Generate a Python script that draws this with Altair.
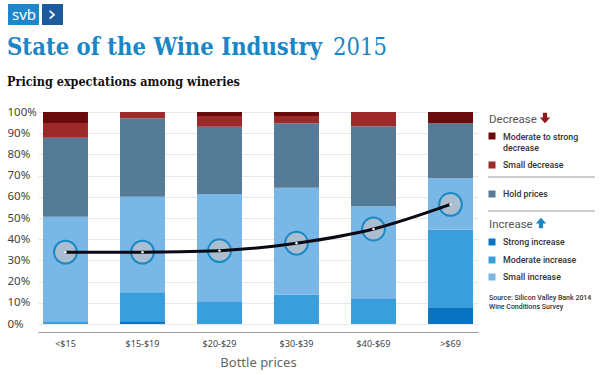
import altair as alt
import pandas as pd

# ---------------- data ----------------
categories = ["<$15", "$15-$19", "$20-$29", "$30-$39", "$40-$69", ">$69"]
series_names = ["Strong increase", "Moderate increase", "Small increase",
                "Hold prices", "Small decrease", "Moderate to strong decrease"]
strong_increase = [0, 1, 0, 0, 0, 7.5]
moderate_increase = [1, 14, 10.7, 13.8, 12.2, 36.9]
small_increase = [49.6, 45, 50.6, 50.5, 43.4, 24.3]
hold_prices = [37.2, 37, 31.8, 30.4, 37.7, 26]
small_decrease = [7, 3, 5, 3.4, 6.7, 0]
mod_strong_decrease = [5.2, 0, 1.9, 1.9, 0, 5.3]
trend = [33.9, 33.9, 34.6, 38.1, 44.8, 56.4]
y_ticks = [0, 10, 20, 30, 40, 50, 60, 70, 80, 90, 100]
colors = ["#0a73c1", "#3a9edc", "#78b7e6", "#557b97", "#9c2a2a", "#6a0a0a"]

series_values = [strong_increase, moderate_increase, small_increase,
                 hold_prices, small_decrease, mod_strong_decrease]
rows = []
for k, (name, vals) in enumerate(zip(series_names, series_values)):
    for c, v in zip(categories, vals):
        rows.append({"cat": c, "series": name, "value": v, "ord": k})
df = pd.DataFrame(rows)
trend_df = pd.DataFrame({"cat": categories, "trend": trend})
one = pd.DataFrame({"a": [0]})

FONT = "Noto Sans"
LFONT = "Roboto"
SERIF = "DejaVu Serif Condensed"

x_axis = alt.Axis(title="Bottle prices", labelAngle=0, offset=8,
                  ticks=False, domainColor="#999999", domainWidth=1,
                  labelFontSize=9, labelColor="#444444", labelFont=FONT,
                  labelPadding=7, titleFont=FONT, titleFontSize=13,
                  titleFontWeight="normal", titleColor="#666666",
                  titlePadding=8)
y_axis = alt.Axis(title=None, values=y_ticks, tickCount=11, labelExpr="datum.value + '%'",
                  ticks=False, tickSize=0, domain=False, labelAlign="left",
                  labelPadding=31, labelFontSize=11.5, labelColor="#444444",
                  labelFont=FONT, gridColor="#e8e8e8", gridWidth=1,
                  labelOverlap=False)
x_scale = alt.Scale(paddingInner=0.416, paddingOuter=0.065)
y_scale = alt.Scale(domain=[0, 100], nice=False)

bars = alt.Chart(df).mark_bar().encode(
    x=alt.X("cat:N", sort=categories, scale=x_scale, axis=x_axis),
    y=alt.Y("value:Q", stack="zero", scale=y_scale, axis=y_axis),
    color=alt.Color("series:N", scale=alt.Scale(domain=series_names, range=colors), legend=None),
    order=alt.Order("ord:Q", sort="ascending"),
)

tx = alt.X("cat:N", sort=categories, scale=x_scale, axis=x_axis)
ty = alt.Y("trend:Q", scale=y_scale, axis=y_axis)

circles = alt.Chart(trend_df).mark_circle(
    size=520, color="#abbdd0", opacity=1, stroke="#1a8ac6", strokeWidth=2
).encode(x=tx, y=ty)

line = alt.Chart(trend_df).mark_line(
    interpolate="monotone", color="#0a0a14", strokeWidth=3
).encode(x=tx, y=ty)

dots = alt.Chart(trend_df).mark_circle(size=6, color="white", opacity=1).encode(x=tx, y=ty)


def txt(s, x, y, size, color, weight="normal", font=FONT, align="left"):
    return alt.Chart(one).mark_text(
        text=s, fontSize=size, color=color, fontWeight=weight, font=font,
        align=align, baseline="alphabetic"
    ).encode(x=alt.value(x), y=alt.value(y))


def rect(x, x2, y, y2, color):
    return alt.Chart(one).mark_rect(color=color).encode(
        x=alt.value(x), x2=alt.value(x2), y=alt.value(y), y2=alt.value(y2))


def rule(x, x2, y, color="#bdbdbd", w=1.5):
    return alt.Chart(one).mark_rule(color=color, strokeWidth=w).encode(
        x=alt.value(x), x2=alt.value(x2), y=alt.value(y))


def arrow(x, y, color, down=True):
    if down:
        path = "M -1 -0.1 L -0.4 -0.1 L -0.4 -1 L 0.4 -1 L 0.4 -0.1 L 1 -0.1 L 0 1 Z"
    else:
        path = "M -1 0.1 L -0.4 0.1 L -0.4 1 L 0.4 1 L 0.4 0.1 L 1 0.1 L 0 -1 Z"
    return alt.Chart(one).mark_point(shape=path, filled=True, size=110, color=color,
                                     opacity=1).encode(x=alt.value(x), y=alt.value(y))


def square(y, color):
    return alt.Chart(one).mark_square(size=49, color=color, opacity=1).encode(
        x=alt.value(454), y=alt.value(y))


LS = 8.8
LC = "#333333"
deco = [
    # logo
    rect(-30, 1, -108, -87, "#1d87c9"),
    rect(4, 25, -108, -87, "#1c5a9c"),
    txt("svb", -26, -92, 15, "white", font=FONT),
    txt("\u203a", 14, -91, 22, "white", font="DejaVu Sans", align="center"),
    # titles
    txt("State of the Wine Industry", -31, -57, 23.6, "#1a86c6", weight="bold", font=SERIF),
    txt("2015", 295, -57, 23.6, "#1a86c6", weight="normal", font=SERIF),
    txt("Pricing expectations among wineries", -31, -26, 12.5, "#111111", weight="bold", font=SERIF),
    # legend
    txt("Decrease", 451, 11, 11.5, "#555555", font=LFONT),
    arrow(507, 6, "#8e1b1b", down=True),
    square(24, colors[5]),
    txt("Moderate to strong", 465, 28, LS, LC, weight=500, font=LFONT),
    txt("decrease", 465, 39, LS, LC, weight=500, font=LFONT),
    square(53, colors[4]),
    txt("Small decrease", 465, 56, LS, LC, weight=500, font=LFONT),
    rule(450, 557, 65),
    square(82, colors[3]),
    txt("Hold prices", 465, 85, LS, LC, weight=500, font=LFONT),
    rule(450, 557, 99),
    txt("Increase", 451, 116, 11.5, "#555555", font=LFONT),
    arrow(503, 111, "#1a86c6", down=False),
    square(130, colors[0]),
    txt("Strong increase", 465, 133, LS, LC, weight=500, font=LFONT),
    square(148, colors[1]),
    txt("Moderate increase", 465, 151, LS, LC, weight=500, font=LFONT),
    square(165, colors[2]),
    txt("Small increase", 465, 168, LS, LC, weight=500, font=LFONT),
    txt("Source: Silicon Valley Bank 2014", 451, 188, 7, LC, weight=500, font=LFONT),
    txt("Wine Conditions Survey", 451, 197, 7, LC, weight=500, font=LFONT),
]

chart = alt.layer(bars, circles, line, dots, *deco).properties(
    width=440, height=212,
    autosize=alt.AutoSizeParams(type="none"),
    padding={"left": 38, "top": 112, "right": 122, "bottom": 51},
    background="white",
).configure_view(stroke=None)

chart.save("out.html", embed_options={"renderer": "svg", "actions": False})
